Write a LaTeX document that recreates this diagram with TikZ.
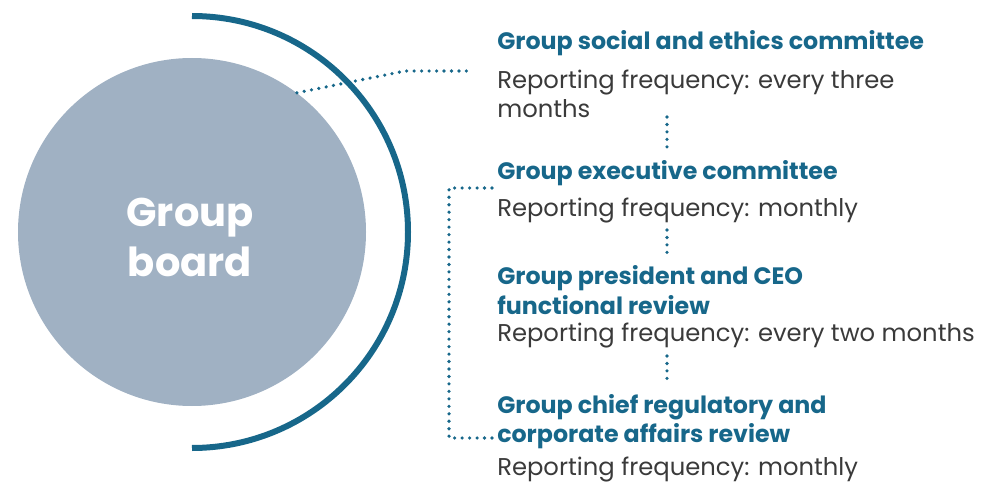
\documentclass[tikz,border=0pt]{standalone}
\usepackage{fontspec}
\setmainfont{Poppins}
\definecolor{teal}{HTML}{17678A}
\definecolor{boardfill}{HTML}{A0B1C3}
\definecolor{bodytext}{HTML}{3A3A3A}
\begin{document}
\begin{tikzpicture}[x=0.75pt,y=-0.75pt,
  dots/.style={teal,line width=3.6pt*0.75,line cap=round,dash pattern=on 0pt off 5.6pt},
  head/.style={anchor=west,inner sep=0pt,text=teal,font=\fontsize{17.8}{22}\selectfont\bfseries,align=left},
  body/.style={anchor=west,inner sep=0pt,text=bodytext,font=\fontsize{18.2}{22}\selectfont,align=left}]
\useasboundingbox (0,0) rectangle (1000,485);
\node[circle,fill=boardfill,minimum size=348*0.75pt,inner sep=0pt] (board) at (192,232) {};
\node[text=white,font=\fontsize{30}{37.5}\selectfont\bfseries,align=center] (boardlabel) at (190,237) {Group\\board};
\draw[teal,line width=4.5pt] (192,16) arc[start angle=-90,end angle=90,radius=216];
\node[head] (h1) at (497,43) {Group social and ethics committee};
\node[body] (r1) at (497,94) {Reporting frequency: every three\\months};
\node[head] (h2) at (497,173) {Group executive committee};
\node[body] (r2) at (497,211) {Reporting frequency: monthly};
\node[head] (h3) at (497,290) {Group president and CEO\\functional review};
\node[body] (r3) at (497,336) {Reporting frequency: every two months};
\node[head] (h4) at (497,421.5) {Group chief regulatory and\\corporate affairs review};
\node[body] (r4) at (497,469.5) {Reporting frequency: monthly};
\coordinate (k1) at (405,71);
\coordinate (e1) at (470,71);
\draw[dots] (board.53.5) -- (k1) -- (e1);
\draw[dots] (667,117) -- (667,148);
\draw[dots] (667,230) -- (667,253);
\draw[dots] (667,356) -- (667,382);
\coordinate (b1) at (492,188);
\coordinate (b2) at (449,188);
\coordinate (b3) at (449,438);
\coordinate (b4) at (492,438);
\draw[dots] (b1) -- (b2) -- (b3) -- (b4);
\end{tikzpicture}
\end{document}
